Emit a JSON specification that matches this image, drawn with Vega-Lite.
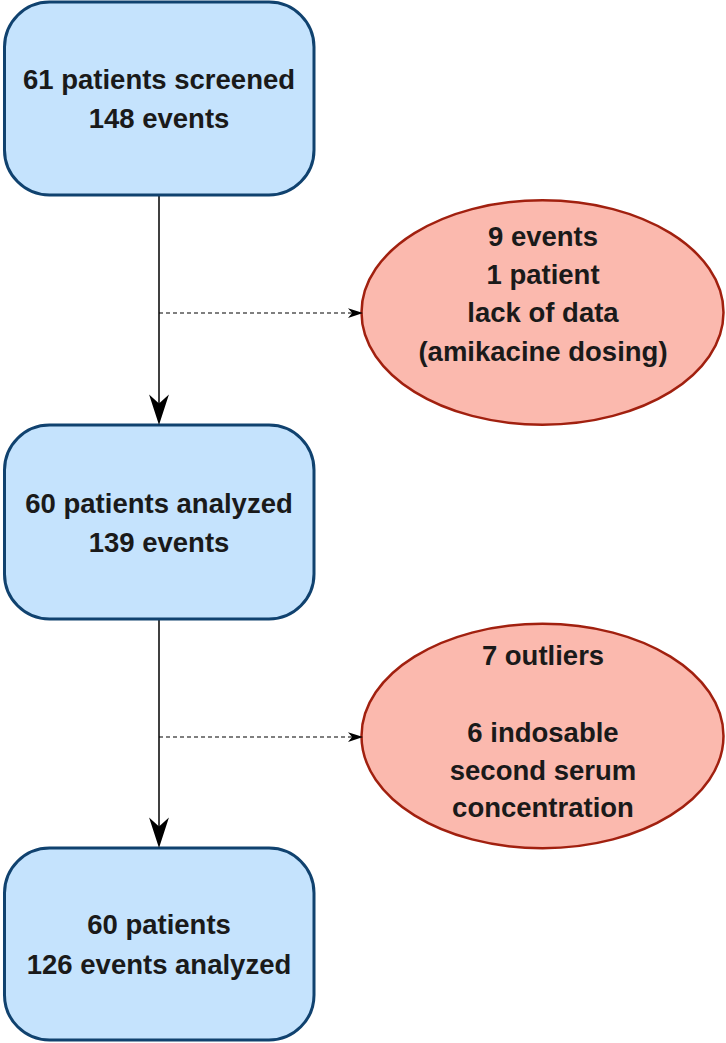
{
  "$schema": "https://vega.github.io/schema/vega-lite/v6.json",
  "width": 726,
  "height": 1043,
  "padding": 0,
  "autosize": {"type": "none"},
  "background": "white",
  "config": {"view": {"stroke": null}},
  "datasets": {
    "boxes": [
      {"id": "screened", "x1": 4.5, "x2": 314, "y1": 2, "y2": 195},
      {"id": "analyzed", "x1": 4.5, "x2": 314, "y1": 425, "y2": 619},
      {"id": "final", "x1": 4.5, "x2": 314, "y1": 848, "y2": 1040}
    ],
    "ellipses": [
      {"id": "excl1", "cx": 542.5, "cy": 312.5},
      {"id": "excl2", "cx": 542.5, "cy": 736}
    ],
    "solid": [
      {"x": 159, "y1": 196, "y2": 406},
      {"x": 159, "y1": 620, "y2": 829}
    ],
    "dashed": [
      {"y": 313, "x1": 159, "x2": 352},
      {"y": 737, "x1": 159, "x2": 352}
    ],
    "downArrows": [
      {"x": 159, "y": 409},
      {"x": 159, "y": 832}
    ],
    "rightArrows": [
      {"x": 355.5, "y": 313},
      {"x": 355.5, "y": 737}
    ],
    "labels": [
      {"x": 159, "y": 81, "text": "61 patients screened"},
      {"x": 159, "y": 120, "text": "148 events"},
      {"x": 159, "y": 505, "text": "60 patients analyzed"},
      {"x": 159, "y": 544, "text": "139 events"},
      {"x": 159, "y": 926, "text": "60 patients"},
      {"x": 159, "y": 966, "text": "126 events analyzed"},
      {"x": 543, "y": 238, "text": "9 events"},
      {"x": 543, "y": 276, "text": "1 patient"},
      {"x": 543, "y": 314, "text": "lack of data"},
      {"x": 543, "y": 353, "text": "(amikacine dosing)"},
      {"x": 543, "y": 657, "text": "7 outliers"},
      {"x": 543, "y": 734, "text": "6 indosable"},
      {"x": 543, "y": 772, "text": "second serum"},
      {"x": 543, "y": 809, "text": "concentration"}
    ]
  },
  "layer": [
    {
      "data": {"name": "solid"},
      "mark": {"type": "rule", "color": "#000000", "strokeWidth": 1.5},
      "encoding": {
        "x": {"field": "x", "type": "quantitative", "scale": {"domain": [0, 726], "nice": false, "zero": false}, "axis": null},
        "y": {"field": "y1", "type": "quantitative", "scale": {"domain": [0, 1043], "nice": false, "zero": false, "reverse": true}, "axis": null},
        "y2": {"field": "y2"}
      }
    },
    {
      "data": {"name": "dashed"},
      "mark": {"type": "rule", "color": "#000000", "strokeWidth": 1.2, "strokeDash": [4, 3]},
      "encoding": {
        "y": {"field": "y", "type": "quantitative", "axis": null},
        "x": {"field": "x1", "type": "quantitative", "axis": null},
        "x2": {"field": "x2"}
      }
    },
    {
      "data": {"name": "boxes"},
      "mark": {"type": "rect", "fill": "#c5e3fd", "stroke": "#10426f", "strokeWidth": 3, "cornerRadius": 45},
      "encoding": {
        "x": {"field": "x1", "type": "quantitative", "axis": null},
        "x2": {"field": "x2"},
        "y": {"field": "y1", "type": "quantitative", "axis": null},
        "y2": {"field": "y2"}
      }
    },
    {
      "data": {"name": "ellipses"},
      "mark": {"type": "point", "filled": true, "fill": "#fbb9ae", "stroke": "#a1200f", "strokeWidth": 2.5, "opacity": 1, "fillOpacity": 1, "strokeOpacity": 1, "size": 131044, "shape": "M-1,0A1,0.62,0,1,1,1,0A1,0.62,0,1,1,-1,0Z"},
      "encoding": {
        "x": {"field": "cx", "type": "quantitative", "axis": null},
        "y": {"field": "cy", "type": "quantitative", "axis": null}
      }
    },
    {
      "data": {"name": "downArrows"},
      "mark": {"type": "point", "filled": true, "fill": "#000000", "opacity": 1, "strokeWidth": 0, "size": 1024, "shape": "M0,1L-0.62,-0.9L0,-0.35L0.62,-0.9Z"},
      "encoding": {
        "x": {"field": "x", "type": "quantitative", "axis": null},
        "y": {"field": "y", "type": "quantitative", "axis": null}
      }
    },
    {
      "data": {"name": "rightArrows"},
      "mark": {"type": "point", "filled": true, "fill": "#000000", "opacity": 1, "strokeWidth": 0, "size": 225, "shape": "M1,0L-1,-0.65L-0.45,0L-1,0.65Z"},
      "encoding": {
        "x": {"field": "x", "type": "quantitative", "axis": null},
        "y": {"field": "y", "type": "quantitative", "axis": null}
      }
    },
    {
      "data": {"name": "labels"},
      "mark": {"type": "text", "font": "Liberation Sans", "fontWeight": "bold", "fontSize": 27.5, "color": "#1a1a1a", "align": "center", "baseline": "middle"},
      "encoding": {
        "x": {"field": "x", "type": "quantitative", "axis": null},
        "y": {"field": "y", "type": "quantitative", "axis": null},
        "text": {"field": "text", "type": "nominal"}
      }
    }
  ]
}
